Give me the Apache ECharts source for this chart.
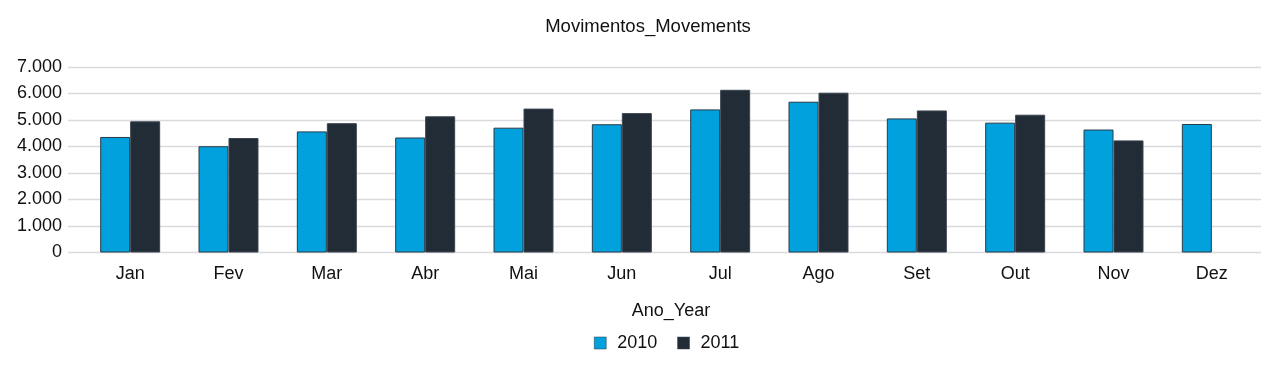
<!DOCTYPE html>
<html>
<head>
<meta charset="utf-8">
<script src="https://cdn.jsdelivr.net/npm/echarts@6/dist/echarts.min.js"></script>
<style>
html,body{margin:0;padding:0;background:#fff;}
#chart{width:1281px;height:371px;}
</style>
</head>
<body>
<div id="chart"></div>
<script>
var months = ['Jan','Fev','Mar','Abr','Mai','Jun','Jul','Ago','Set','Out','Nov','Dez'];
var values2010 = [4360,4010,4570,4340,4710,4840,5400,5690,5060,4900,4640,4850];
var values2011 = [4950,4320,4880,5140,5430,5260,6140,6030,5360,5200,4230,null];
var yTicks = [0,1000,2000,3000,4000,5000,6000,7000];

var font = 'Liberation Sans, Arial, sans-serif';
var chart = echarts.init(document.getElementById('chart'));
chart.setOption({
  backgroundColor:'#ffffff',
  animation:false,
  title:{text:'Movimentos_Movements',left:643,textAlign:'center',top:12,
    textStyle:{fontFamily:font,fontSize:18.5,fontWeight:'normal',color:'#111'}},
  legend:{left:589,top:329,itemWidth:12,itemHeight:12,itemGap:20,icon:'rect',
    itemStyle:{borderWidth:0.5},
    textStyle:{fontFamily:font,fontSize:18,color:'#111',padding:[0,0,0,6]},
    data:['2010','2011']},
  grid:[
    {left:68,right:20,top:67,bottom:118.5},
    {left:81,right:20,top:67,bottom:118.5}
  ],
  xAxis:[
    {gridIndex:0,type:'value',show:false,min:0,max:1},
    {gridIndex:1,type:'category',data:months,
      axisLine:{show:false},axisTick:{show:false},
      axisLabel:{fontFamily:font,fontSize:18,color:'#111',margin:13},
      name:'Ano_Year',nameLocation:'middle',nameGap:50,
      nameTextStyle:{fontFamily:font,fontSize:18,color:'#111'}}
  ],
  yAxis:[
    {gridIndex:0,type:'value',min:0,max:7000,interval:1000,
      axisLine:{show:false},axisTick:{show:false},
      splitLine:{lineStyle:{color:'#d9d9de',width:1.3}},
      axisLabel:{fontFamily:font,fontSize:18,color:'#111',margin:6,
        formatter:function(v){return v.toLocaleString('de-DE');}}},
    {gridIndex:1,type:'value',min:0,max:7000,interval:1000,show:false,splitLine:{show:false}}
  ],
  series:[
    {name:'2010',type:'bar',xAxisIndex:1,yAxisIndex:1,data:values2010,
      barGap:'0%',barCategoryGap:'39%',
      itemStyle:{color:'#00a1dd',borderColor:'#2a3a48',borderWidth:1}},
    {name:'2011',type:'bar',xAxisIndex:1,yAxisIndex:1,data:values2011,
      itemStyle:{color:'#222c37',borderColor:'#3a4450',borderWidth:1}}
  ]
});
</script>
</body>
</html>
